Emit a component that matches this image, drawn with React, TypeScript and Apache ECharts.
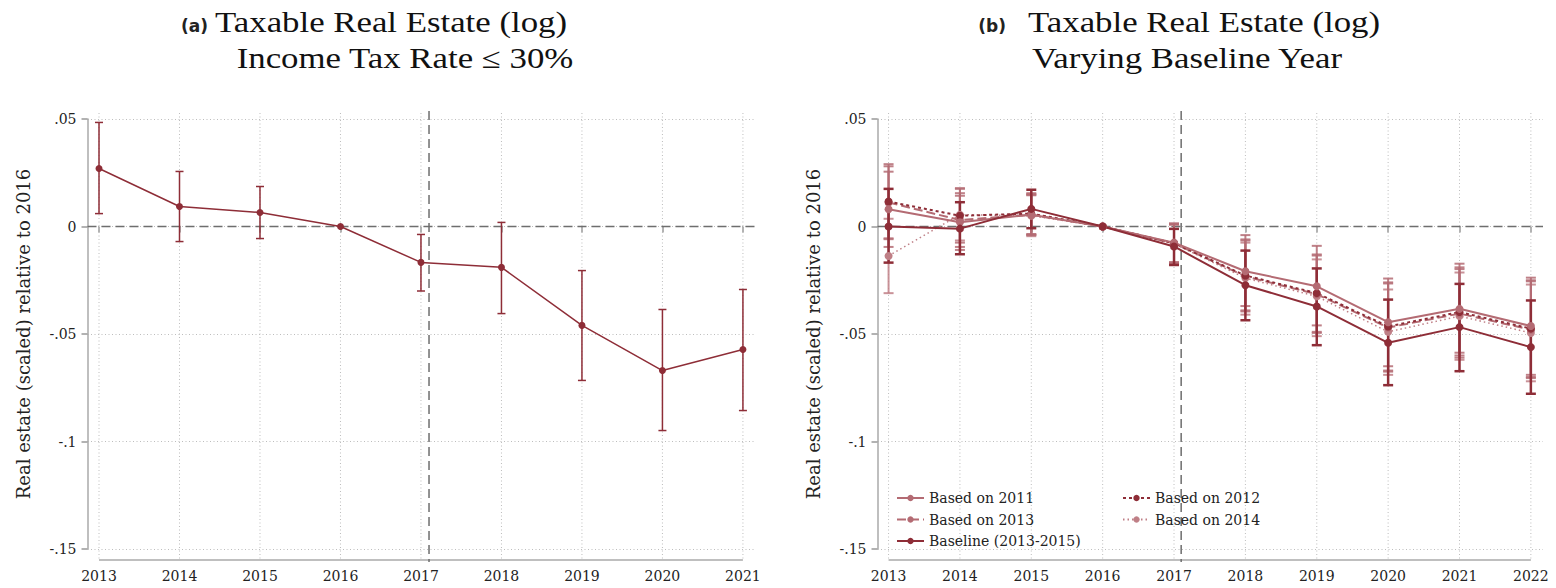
import React, { useEffect, useRef } from "react";
import * as echarts from "echarts";

// ---------- Panel (a) ----------
const YEARS_A = [2013, 2014, 2015, 2016, 2017, 2018, 2019, 2020, 2021];
const COEF_A = [0.027, 0.0093, 0.0065, 0, -0.0167, -0.019, -0.046, -0.067, -0.0572];
const LO_A = [0.006, -0.007, -0.0056, 0, -0.03, -0.0405, -0.0716, -0.0949, -0.0856];
const HI_A = [0.0484, 0.0256, 0.0186, 0, -0.0037, 0.0019, -0.0205, -0.0386, -0.0293];

// ---------- Panel (b) ----------
const YEARS_B = [2013, 2014, 2015, 2016, 2017, 2018, 2019, 2020, 2021, 2022];
const BASE_COEF = [0, -0.001, 0.0082, 0, -0.0093, -0.0273, -0.0372, -0.0541, -0.0468, -0.0561];
const BASE_LO = [-0.0168, -0.0129, -0.0008, 0, -0.0179, -0.0436, -0.0552, -0.0738, -0.0673, -0.0778];
const BASE_HI = [0.0175, 0.0113, 0.0171, 0, -0.0011, -0.0112, -0.0195, -0.034, -0.0267, -0.0344];

const B2011_COEF = [0.008, 0.002, 0.0055, 0, -0.0075, -0.0208, -0.0278, -0.0445, -0.0383, -0.0463];
const B2011_LO = [-0.0095, -0.0109, -0.004, 0, -0.0165, -0.037, -0.046, -0.065, -0.0587, -0.069];
const B2011_HI = [0.0255, 0.0143, 0.0148, 0, 0.0015, -0.004, -0.009, -0.0242, -0.0173, -0.0238];

const B2012_COEF = [0.0116, 0.005, 0.006, 0, -0.0078, -0.0228, -0.031, -0.0465, -0.0398, -0.0475];
const B2012_LO = [-0.0059, -0.0075, -0.0035, 0, -0.017, -0.039, -0.049, -0.067, -0.06, -0.07];
const B2012_HI = [0.029, 0.0175, 0.0155, 0, 0.0012, -0.006, -0.013, -0.026, -0.019, -0.025];

const B2013_COEF = [0.0112, 0.003, 0.0055, 0, -0.0078, -0.0232, -0.0315, -0.047, -0.0405, -0.048];
const B2013_LO = [-0.0055, -0.0095, -0.0038, 0, -0.017, -0.0395, -0.0495, -0.0675, -0.061, -0.0705];
const B2013_HI = [0.028, 0.0155, 0.015, 0, 0.001, -0.0065, -0.0135, -0.0265, -0.0198, -0.0255];

const B2014_COEF = [-0.0137, 0.0055, 0.005, 0, -0.008, -0.024, -0.0325, -0.049, -0.0417, -0.0495];
const B2014_LO = [-0.031, -0.0065, -0.0045, 0, -0.0172, -0.041, -0.051, -0.069, -0.062, -0.072];
const B2014_HI = [0.0036, 0.0179, 0.0145, 0, 0.0008, -0.0075, -0.0153, -0.0293, -0.0214, -0.027];

// ---------- Axis ticks ----------
const Y_MIN = -0.15;
const Y_MAX = 0.05;
const Y_TICKS = [-0.15, -0.1, -0.05, 0, 0.05];
const Y_TICK_LABELS = ["-.15", "-.1", "-.05", "0", ".05"];
const REFORM_X = 2017.1;

const DARK = "#8e2d37";
const LIGHT = "#b46b73";
const LIGHTER = "#bf7f86";
const AXIS_GRAY = "#aaaaaa";
const GRID_GRAY = "#bdbdbd";
const REF_GRAY = "#6e6e6e";
const TXT = "#222222";

const AXIS_OFFSET = 11; // px gap between plot bottom and x-axis line
const GRID_OVERSHOOT = 6; // px the vertical grid goes above the top tick

const fmtY = (v: number) => {
  let best = 0;
  for (let i = 0; i < Y_TICKS.length; i++) {
    if (Math.abs(Y_TICKS[i] - v) < Math.abs(Y_TICKS[best] - v)) best = i;
  }
  return Y_TICK_LABELS[best];
};

const mkX = (gridIndex: number, min: number, max: number, years: number[]) => ({
  type: "value",
  gridIndex,
  min,
  max,
  offset: AXIS_OFFSET,
  axisLine: { show: false },
  axisTick: { show: true, length: 6, customValues: years, lineStyle: { color: "#999", width: 1.5 } },
  axisLabel: {
    customValues: years,
    formatter: (v: number) => String(Math.round(v)),
    margin: 9,
    fontFamily: "DejaVu Serif",
    fontSize: 14,
    color: TXT,
  },
  splitLine: { show: false },
});

const mkY = (gridIndex: number) => ({
  type: "value",
  gridIndex,
  min: Y_MIN,
  max: Y_MAX,
  interval: 0.05,
  axisLine: { show: true, lineStyle: { color: AXIS_GRAY, width: 1.5 } },
  axisTick: { show: true, length: 6, lineStyle: { color: "#999", width: 1.5 } },
  axisLabel: { margin: 11, formatter: fmtY, fontFamily: "DejaVu Serif", fontSize: 14, color: TXT },
  splitLine: { show: true, lineStyle: { color: GRID_GRAY, type: [1, 2.5], width: 1 } },
  name: "Real estate (scaled) relative to 2016",
  nameLocation: "middle",
  nameGap: 55,
  nameRotate: 90,
  nameTextStyle: { fontFamily: "DejaVu Serif", fontSize: 18, color: TXT },
});

// decorations: vertical dotted grid, x-axis line, reform line, zero line
const decoSeries = (idx: number, years: number[]) => ({
  type: "custom",
  xAxisIndex: idx,
  yAxisIndex: idx,
  silent: true,
  z: 1,
  data: years.map((y) => [y, 0]),
  encode: { x: 0, y: 1 },
  renderItem: (params: any, api: any) => {
    const x = api.value(0);
    const top = api.coord([x, Y_MAX]);
    const bot = api.coord([x, Y_MIN]);
    const children: any[] = [
      {
        type: "line",
        shape: { x1: top[0], y1: top[1] - GRID_OVERSHOOT, x2: bot[0], y2: bot[1] + AXIS_OFFSET },
        style: { stroke: GRID_GRAY, lineWidth: 1, lineDash: [1, 2.5] },
      },
    ];
    if (params.dataIndex === 0) {
      const first = years[0];
      const last = years[years.length - 1];
      const a = api.coord([first, Y_MIN]);
      const b = api.coord([last, Y_MIN]);
      const z0 = api.coord([first, 0]);
      const r1 = api.coord([REFORM_X, Y_MAX]);
      const r2 = api.coord([REFORM_X, Y_MIN]);
      const cs = params.coordSys;
      children.push(
        {
          type: "line",
          shape: { x1: cs.x, y1: z0[1], x2: cs.x + cs.width, y2: z0[1] },
          style: { stroke: REF_GRAY, lineWidth: 1.5, lineDash: [9, 5] },
        },
        {
          type: "line",
          shape: { x1: a[0], y1: a[1] + AXIS_OFFSET, x2: b[0], y2: b[1] + AXIS_OFFSET },
          style: { stroke: AXIS_GRAY, lineWidth: 1.5 },
        },
        {
          type: "line",
          shape: { x1: r1[0], y1: r1[1] - 8, x2: r2[0], y2: r2[1] + AXIS_OFFSET + 2 },
          style: { stroke: REF_GRAY, lineWidth: 1.5, lineDash: [9, 5] },
        }
      );
    }
    return { type: "group", children };
  },
});

const errSeries = (
  idx: number,
  years: number[],
  lo: number[],
  hi: number[],
  color: string,
  width: number,
  hw: number,
  opacity = 1
) => ({
  type: "custom",
  xAxisIndex: idx,
  yAxisIndex: idx,
  silent: true,
  z: 2,
  data: years.map((y, i) => [y, lo[i], hi[i]]),
  encode: { x: 0, y: [1, 2] },
  renderItem: (params: any, api: any) => {
    const x = api.value(0);
    const l = api.value(1);
    const h = api.value(2);
    if (Math.abs(h - l) < 1e-9) return { type: "group", children: [] };
    const p1 = api.coord([x, h]);
    const p2 = api.coord([x, l]);
    const st = { stroke: color, lineWidth: width, opacity };
    return {
      type: "group",
      children: [
        { type: "line", shape: { x1: p1[0], y1: p1[1], x2: p2[0], y2: p2[1] }, style: st },
        { type: "line", shape: { x1: p1[0] - hw, y1: p1[1], x2: p1[0] + hw, y2: p1[1] }, style: st },
        { type: "line", shape: { x1: p2[0] - hw, y1: p2[1], x2: p2[0] + hw, y2: p2[1] }, style: st },
      ],
    };
  },
});

const lineSeries = (
  idx: number,
  name: string,
  years: number[],
  coef: number[],
  color: string,
  width: number,
  type: any,
  size: number,
  opacity = 1
) => ({
  type: "line",
  name,
  xAxisIndex: idx,
  yAxisIndex: idx,
  data: years.map((y, i) => [y, coef[i]]),
  symbol: "circle",
  symbolSize: size,
  showSymbol: true,
  itemStyle: { color, opacity },
  lineStyle: { color, width, type, opacity },
  silent: true,
  z: 3,
});

const titleTexts = (
  tag: string,
  tagRight: number,
  mainLeft: number,
  line2: string,
  line2Center: number
) => [
  {
    type: "text",
    x: tagRight,
    y: 26,
    style: {
      text: tag,
      fontFamily: "DejaVu Sans",
      fontWeight: "bold",
      fontSize: 17,
      fill: TXT,
      align: "right",
      verticalAlign: "middle",
    },
  },
  {
    type: "text",
    x: mainLeft,
    y: 22,
    scaleX: 1.2,
    style: {
      text: "Taxable Real Estate (log)",
      fontFamily: "Liberation Serif",
      fontSize: 29,
      fill: "#111",
      align: "left",
      verticalAlign: "middle",
    },
  },
  {
    type: "text",
    x: line2Center,
    y: 58,
    scaleX: 1.2,
    style: {
      text: line2,
      fontFamily: "Liberation Serif",
      fontSize: 29,
      fill: "#111",
      align: "center",
      verticalAlign: "middle",
    },
  },
];

const legendBase = {
  orient: "vertical",
  itemWidth: 27,
  itemHeight: 8,
  itemGap: 5.5,
  selectedMode: false,
  textStyle: { fontFamily: "DejaVu Serif", fontSize: 14, color: TXT, lineHeight: 16 },
};

export default function App() {
  const ref = useRef<HTMLDivElement>(null);
  useEffect(() => {
    if (!ref.current) return;
    const chart = echarts.init(ref.current, null, { renderer: "svg" });
    const option: any = {
      animation: false,
      backgroundColor: "#ffffff",
      grid: [
        { left: 87.5, top: 119, width: 667.5, height: 430 },
        { left: 877.5, top: 119, width: 665.5, height: 430 },
      ],
      xAxis: [mkX(0, 2012.857, 2021.15, YEARS_A), mkX(1, 2012.845, 2022.17, YEARS_B)],
      yAxis: [mkY(0), mkY(1)],
      legend: [
        {
          ...legendBase,
          left: 891,
          top: 485,
          data: ["Based on 2011", "Based on 2013", "Baseline (2013-2015)"],
        },
        {
          ...legendBase,
          left: 1117,
          top: 485,
          data: ["Based on 2012", "Based on 2014"],
        },
      ],
      graphic: [
        ...titleTexts("(a)", 208, 215, "Income Tax Rate \u2264 30%", 405),
        ...titleTexts("(b)", 1006, 1028, "Varying Baseline Year", 1187),
      ],
      series: [
        decoSeries(0, YEARS_A),
        errSeries(0, YEARS_A, LO_A, HI_A, DARK, 1.5, 4),
        lineSeries(0, "Panel a", YEARS_A, COEF_A, DARK, 1.5, "solid", 7),

        decoSeries(1, YEARS_B),
        errSeries(1, YEARS_B, B2014_LO, B2014_HI, LIGHTER, 2, 5, 0.85),
        errSeries(1, YEARS_B, B2013_LO, B2013_HI, LIGHT, 2, 5, 0.85),
        errSeries(1, YEARS_B, B2012_LO, B2012_HI, LIGHT, 2, 5, 0.85),
        errSeries(1, YEARS_B, B2011_LO, B2011_HI, LIGHT, 2, 5, 0.85),
        lineSeries(1, "Based on 2014", YEARS_B, B2014_COEF, LIGHTER, 1.5, [1.5, 3], 8),
        lineSeries(1, "Based on 2013", YEARS_B, B2013_COEF, LIGHT, 2, [9, 4], 8),
        lineSeries(1, "Based on 2012", YEARS_B, B2012_COEF, DARK, 2, [3, 3], 8),
        lineSeries(1, "Based on 2011", YEARS_B, B2011_COEF, LIGHT, 2, "solid", 8),
        errSeries(1, YEARS_B, BASE_LO, BASE_HI, DARK, 2.5, 5),
        lineSeries(1, "Baseline (2013-2015)", YEARS_B, BASE_COEF, DARK, 2, "solid", 8),
      ],
    };
    chart.setOption(option);
    return () => chart.dispose();
  }, []);
  return (
    <div
      ref={ref}
      style={{ position: "fixed", left: 0, top: 0, width: 1556, height: 588, background: "#fff" }}
    />
  );
}
